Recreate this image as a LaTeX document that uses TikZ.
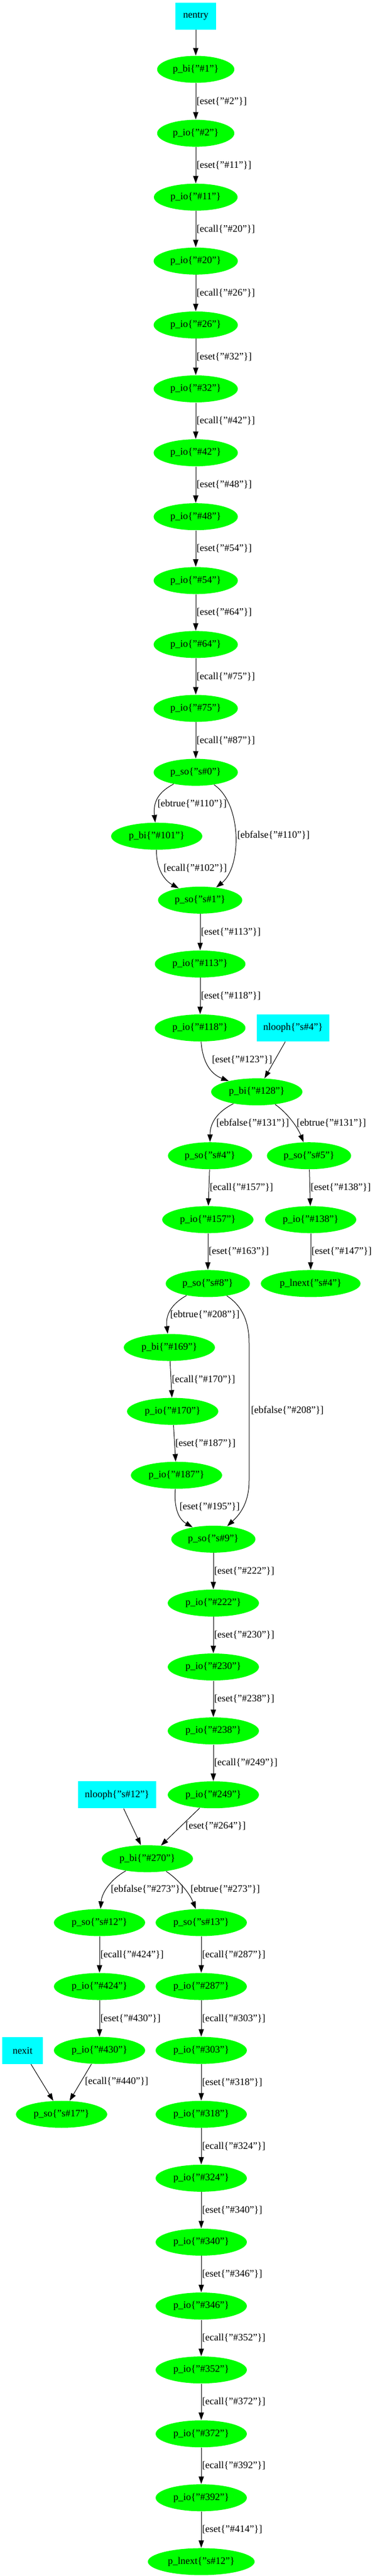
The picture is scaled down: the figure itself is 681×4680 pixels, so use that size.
\documentclass[tikz,border=0pt]{standalone}
\usepackage{fontspec}
\setmainfont{Liberation Serif}
\usetikzlibrary{shapes.geometric,arrows.meta}
\definecolor{gvgreen}{RGB}{0,255,0}
\definecolor{gvcyan}{RGB}{0,255,255}
\newcommand\pn[2]{p\_#1\{"#2"\}}
\newcommand\el[2]{[#1\{"#2"\}]}
\begin{document}
\begin{tikzpicture}[x=1pt,y=-1pt,font=\fontsize{18}{21}\selectfont,
  pnode/.style={shape=ellipse,fill=gvgreen,inner xsep=8pt,inner ysep=0pt,minimum height=49pt},
  hnode/.style={shape=rectangle,fill=gvcyan,inner xsep=12pt,minimum width=74pt,minimum height=49pt},
  lab/.style={inner sep=1pt,anchor=west},
  >={Triangle[length=13.6pt,width=9.5pt]},line width=1pt]
\useasboundingbox (0,0) rectangle (681,4680);
% top chain
\node[hnode,name=nentry] at (356,29){nentry};
\node[pnode,name=b1] at (356,126){\pn{bi}{\#1}};
\node[pnode,name=b2] at (356,242.1){\pn{io}{\#2}};
\node[pnode,name=b11] at (356,358.2){\pn{io}{\#11}};
\node[pnode,name=b20] at (356,474.3){\pn{io}{\#20}};
\node[pnode,name=b26] at (356,590.4){\pn{io}{\#26}};
\node[pnode,name=b32] at (356,706.5){\pn{io}{\#32}};
\node[pnode,name=b42] at (356,822.6){\pn{io}{\#42}};
\node[pnode,name=b48] at (356,938.7){\pn{io}{\#48}};
\node[pnode,name=b54] at (356,1054.8){\pn{io}{\#54}};
\node[pnode,name=b64] at (356,1170.9){\pn{io}{\#64}};
\node[pnode,name=b75] at (356,1287){\pn{io}{\#75}};
\node[pnode,name=s0] at (356,1403.1){\pn{so}{s\#0}};
\node[pnode,name=b101] at (285,1519.2){\pn{bi}{\#101}};
\node[pnode,name=s1] at (364,1635.3){\pn{so}{s\#1}};
\node[pnode,name=b113] at (364,1751.4){\pn{io}{\#113}};
\node[pnode,name=b118] at (364,1867.5){\pn{io}{\#118}};
\node[hnode,name=lh4] at (533,1867.5){nlooph\{"s\#4"\}};
\node[pnode,name=b128] at (467,1983.6){\pn{bi}{\#128}};
% first loop
\node[pnode,name=s4] at (382,2099.7){\pn{so}{s\#4}};
\node[pnode,name=s5] at (562,2099.7){\pn{so}{s\#5}};
\node[pnode,name=b157] at (378,2215.8){\pn{io}{\#157}};
\node[pnode,name=b138] at (565,2215.8){\pn{io}{\#138}};
\node[pnode,name=s8] at (378,2331.9){\pn{so}{s\#8}};
\node[pnode,name=ln4] at (565,2331.9){\pn{lnext}{s\#4}};
\node[pnode,name=b169] at (308,2448){\pn{bi}{\#169}};
\node[pnode,name=b170] at (314,2564.1){\pn{io}{\#170}};
\node[pnode,name=b187] at (321,2680.2){\pn{io}{\#187}};
\node[pnode,name=s9] at (388,2796.3){\pn{so}{s\#9}};
\node[pnode,name=b222] at (388,2912.4){\pn{io}{\#222}};
\node[pnode,name=b230] at (388,3028.5){\pn{io}{\#230}};
\node[pnode,name=b238] at (388,3144.6){\pn{io}{\#238}};
\node[pnode,name=b249] at (388,3260.7){\pn{io}{\#249}};
\node[hnode,name=lh12] at (213,3260.7){nlooph\{"s\#12"\}};
\node[pnode,name=b270] at (268,3376.8){\pn{bi}{\#270}};
% second loop
\node[pnode,name=s12] at (181,3492.9){\pn{so}{s\#12}};
\node[pnode,name=s13] at (366,3492.9){\pn{so}{s\#13}};
\node[pnode,name=b424] at (181,3609){\pn{io}{\#424}};
\node[pnode,name=b287] at (366,3609){\pn{io}{\#287}};
\node[pnode,name=b430] at (181,3725.1){\pn{io}{\#430}};
\node[pnode,name=b303] at (366,3725.1){\pn{io}{\#303}};
\node[hnode,name=nexit] at (41,3725.1){nexit};
\node[pnode,name=s17] at (112,3841.2){\pn{so}{s\#17}};
\node[pnode,name=b318] at (366,3841.2){\pn{io}{\#318}};
\node[pnode,name=b324] at (366,3957.3){\pn{io}{\#324}};
\node[pnode,name=b340] at (366,4073.4){\pn{io}{\#340}};
\node[pnode,name=b346] at (366,4189.5){\pn{io}{\#346}};
\node[pnode,name=b352] at (366,4305.6){\pn{io}{\#352}};
\node[pnode,name=b372] at (366,4421.7){\pn{io}{\#372}};
\node[pnode,name=b392] at (366,4537.8){\pn{io}{\#392}};
\node[pnode,name=ln12] at (366,4653.9){\pn{lnext}{s\#12}};
% edges
\draw[->] (nentry)--(b1);
\draw[->] (b1)--(b2)node[midway,right,lab]{\el{eset}{\#2}};
\draw[->] (b2)--(b11)node[midway,right,lab]{\el{eset}{\#11}};
\draw[->] (b11)--(b20)node[midway,right,lab]{\el{ecall}{\#20}};
\draw[->] (b20)--(b26)node[midway,right,lab]{\el{ecall}{\#26}};
\draw[->] (b26)--(b32)node[midway,right,lab]{\el{eset}{\#32}};
\draw[->] (b32)--(b42)node[midway,right,lab]{\el{ecall}{\#42}};
\draw[->] (b42)--(b48)node[midway,right,lab]{\el{eset}{\#48}};
\draw[->] (b48)--(b54)node[midway,right,lab]{\el{eset}{\#54}};
\draw[->] (b54)--(b64)node[midway,right,lab]{\el{eset}{\#64}};
\draw[->] (b64)--(b75)node[midway,right,lab]{\el{ecall}{\#75}};
\draw[->] (b75)--(s0)node[midway,right,lab]{\el{ecall}{\#87}};
\draw[->] (s0) .. controls (290,1438) and (278,1455) .. (b101)node[lab] at (285,1460){\el{ebtrue}{\#110}};
\draw[->] (s0) .. controls (440,1460) and (440,1575) .. (s1)node[lab] at (430,1517){\el{ebfalse}{\#110}};
\draw[->] (b101) .. controls (284,1580) and (300,1600) .. (s1)node[lab] at (296,1577){\el{ecall}{\#102}};
\draw[->] (s1)--(b113)node[midway,right,lab]{\el{eset}{\#113}};
\draw[->] (b113)--(b118)node[midway,right,lab]{\el{eset}{\#118}};
\draw[->] (b118) .. controls (368,1925) and (380,1950) .. (b128)node[lab] at (384,1925){\el{eset}{\#123}};
\draw[->] (lh4)--(b128);
\draw[->] (b128) .. controls (395,2020) and (382,2040) .. (s4)node[lab] at (392,2040){\el{ebfalse}{\#131}};
\draw[->] (b128) .. controls (520,2020) and (540,2045) .. (s5)node[lab] at (538,2040){\el{ebtrue}{\#131}};
\draw[->] (s4)--(b157)node[midway,right,lab]{\el{ecall}{\#157}};
\draw[->] (b157)--(s8)node[midway,right,lab]{\el{eset}{\#163}};
\draw[->] (s5)--(b138)node[midway,right,lab]{\el{eset}{\#138}};
\draw[->] (b138)--(ln4)node[midway,right,lab]{\el{eset}{\#147}};
\draw[->] (s8) .. controls (310,2370) and (301,2390) .. (b169)node[lab] at (308,2388){\el{ebtrue}{\#208}};
\draw[->] (s8) .. controls (440,2372) and (453,2400) .. (453,2440) -- (453,2690) .. controls (453,2735) and (432,2755) .. (s9)node[lab] at (455,2562){\el{ebfalse}{\#208}};
\draw[->] (b169)--(b170)node[midway,right,lab]{\el{ecall}{\#170}};
\draw[->] (b170)--(b187)node[midway,right,lab]{\el{eset}{\#187}};
\draw[->] (b187) .. controls (316,2740) and (325,2760) .. (s9)node[lab] at (325,2737){\el{eset}{\#195}};
\draw[->] (s9)--(b222)node[midway,right,lab]{\el{eset}{\#222}};
\draw[->] (b222)--(b230)node[midway,right,lab]{\el{eset}{\#230}};
\draw[->] (b230)--(b238)node[midway,right,lab]{\el{eset}{\#238}};
\draw[->] (b238)--(b249)node[midway,right,lab]{\el{ecall}{\#249}};
\draw[->] (b249)--(b270)node[lab] at (336,3317){\el{eset}{\#264}};
\draw[->] (lh12)--(b270);
\draw[->] (b270) .. controls (200,3415) and (185,3440) .. (s12)node[lab] at (200,3432){\el{ebfalse}{\#273}};
\draw[->] (b270) .. controls (325,3415) and (345,3440) .. (s13)node[lab] at (345,3432){\el{ebtrue}{\#273}};
\draw[->] (s12)--(b424)node[midway,right,lab]{\el{ecall}{\#424}};
\draw[->] (b424)--(b430)node[midway,right,lab]{\el{eset}{\#430}};
\draw[->] (b430)--(s17)node[lab] at (153,3781){\el{ecall}{\#440}};
\draw[->] (nexit)--(s17);
\draw[->] (s13)--(b287)node[midway,right,lab]{\el{ecall}{\#287}};
\draw[->] (b287)--(b303)node[midway,right,lab]{\el{ecall}{\#303}};
\draw[->] (b303)--(b318)node[midway,right,lab]{\el{eset}{\#318}};
\draw[->] (b318)--(b324)node[midway,right,lab]{\el{ecall}{\#324}};
\draw[->] (b324)--(b340)node[midway,right,lab]{\el{eset}{\#340}};
\draw[->] (b340)--(b346)node[midway,right,lab]{\el{eset}{\#346}};
\draw[->] (b346)--(b352)node[midway,right,lab]{\el{ecall}{\#352}};
\draw[->] (b352)--(b372)node[midway,right,lab]{\el{ecall}{\#372}};
\draw[->] (b372)--(b392)node[midway,right,lab]{\el{ecall}{\#392}};
\draw[->] (b392)--(ln12)node[midway,right,lab]{\el{eset}{\#414}};
\end{tikzpicture}
\end{document}
